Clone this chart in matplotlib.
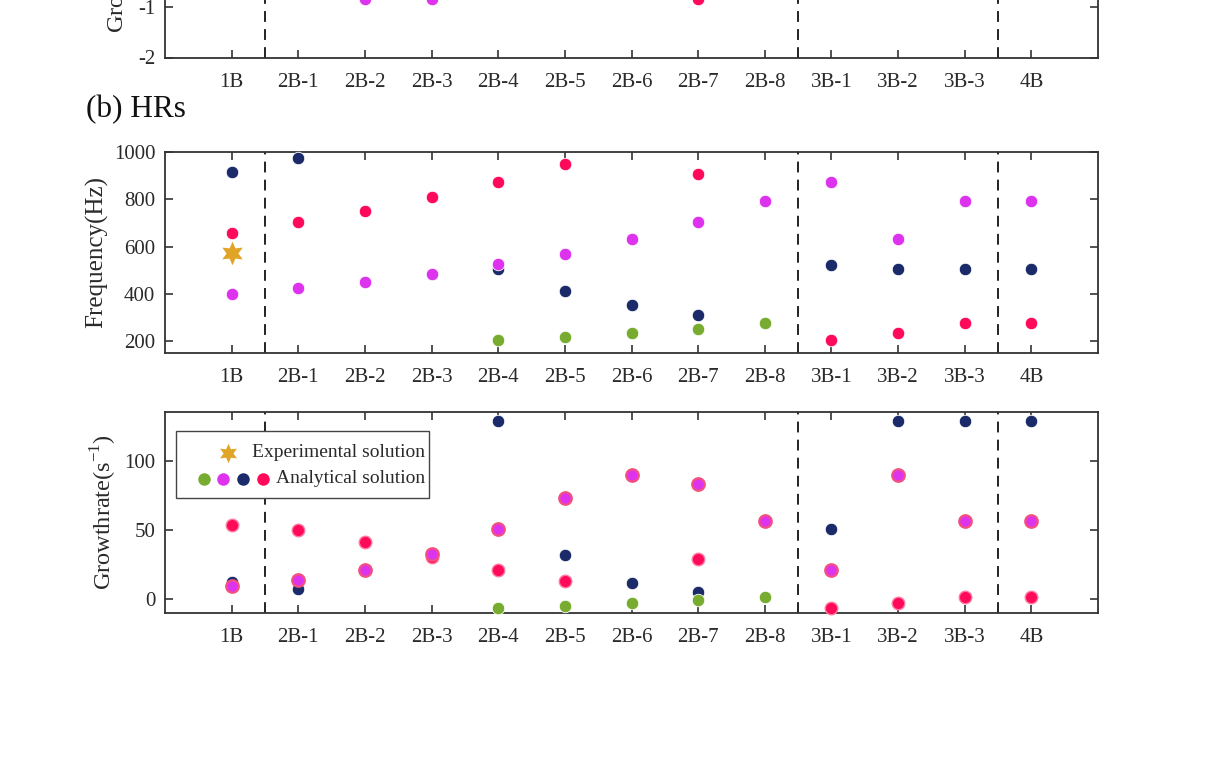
import numpy as np
import matplotlib
matplotlib.use("Agg")
import matplotlib.pyplot as plt
from matplotlib.lines import Line2D
from matplotlib.offsetbox import AnchoredOffsetbox, VPacker, HPacker, TextArea, DrawingArea

plt.rcParams['font.family'] = ['Liberation Serif', 'DejaVu Serif']
plt.rcParams['mathtext.fontset'] = 'custom'
plt.rcParams['mathtext.rm'] = 'Liberation Serif'
plt.rcParams['axes.unicode_minus'] = False

categories = ['1B', '2B-1', '2B-2', '2B-3', '2B-4', '2B-5', '2B-6', '2B-7',
              '2B-8', '3B-1', '3B-2', '3B-3', '4B']
nan = np.nan

# Panel (a) remnant (growth rate, partially visible)
top_magenta = [nan, nan, -0.85, -0.85, nan, nan, nan, nan, nan, nan, nan, nan, nan]
top_red = [nan, nan, nan, nan, nan, nan, nan, -0.85, nan, nan, nan, nan, nan]

# (b) HRs - frequency (Hz)
freq_green = [nan, nan, nan, nan, 203, 217, 233, 252, 278, nan, nan, nan, nan]
freq_magenta = [398, 425, 451, 484, 525, 570, 632, 705, 794, 875, 632, 794, 794]
freq_navy = [915, 975, nan, nan, 504, 413, 354, 310, nan, 522, 507, 507, 507]
freq_red = [658, 703, 752, 809, 874, 952, nan, 907, nan, 204, 233, 278, 278]
freq_exp = [572, nan, nan, nan, nan, nan, nan, nan, nan, nan, nan, nan, nan]

# (b) HRs - growth rate (1/s)
gr_green = [nan, nan, nan, nan, -6.8, -4.8, -2.9, -0.7, 1.2, nan, nan, nan, nan]
gr_magenta = [9.4, 13.8, 20.8, 32.8, 50.5, 73.4, 89.9, 83.3, 56.3, 20.8, 89.9, 56.3, 56.3]
gr_navy = [12.1, 7.5, nan, nan, 129.2, 31.6, 11.4, 4.8, nan, 50.5, 129.2, 129.2, 129.2]
gr_red = [53.6, 50.2, 41.5, 30.7, 20.8, 12.8, nan, 29.0, nan, -6.8, -2.9, 1.4, 1.4]

group_bounds = [1.5, 9.5, 12.5]
legend_labels = ['Experimental solution', 'Analytical solution']

C_GREEN = '#77ac30'
C_MAG = '#dd33ee'
C_NAVY = '#1b2b6a'
C_RED = '#ff0a5a'
C_GOLD = '#e0a526'
SPINE = '#333333'
TXT = '#2a2a2a'

W, H = 1211, 757
fig = plt.figure(figsize=(W / 100, H / 100), dpi=100)

def frac(px_left, px_top, px_right, px_bottom):
    return [px_left / W, 1 - px_bottom / H, (px_right - px_left) / W, (px_bottom - px_top) / H]

x = np.arange(1, len(categories) + 1)

def style_axes(ax, yticks):
    ax.set_xlim(0, len(categories) + 1)
    ax.set_xticks(x)
    ax.set_xticklabels(categories)
    ax.set_yticks(yticks)
    ax.tick_params(axis='both', direction='in', length=6, width=1.2, color=SPINE,
                   labelsize=15, top=True, right=True, labelcolor=TXT)
    ax.tick_params(axis='x', pad=11)
    ax.tick_params(axis='y', pad=7)
    for s in ax.spines.values():
        s.set_color(SPINE)
        s.set_linewidth(1.3)
    for b in group_bounds:
        ax.axvline(b, color='#111111', lw=1.3, ls=(0, (6, 4)), zorder=1)

ms = 9
def pts(ax, vals, color, edge='white', mew=0.6, z=3, marker='o', size=ms):
    ax.plot(x, vals, ls='none', marker=marker, markersize=size, markerfacecolor=color,
            markeredgecolor=edge, markeredgewidth=mew, zorder=z, clip_on=False)

# top remnant axes (panel a bottom)
ax0 = fig.add_axes(frac(165, 57.5 - 204, 1098, 57.5))
style_axes(ax0, [-2, -1])
ax0.set_ylim(-2, 2)
pts(ax0, top_magenta, C_MAG, z=4)
pts(ax0, top_red, C_RED, z=4)
ax0.set_ylabel('Growthrate(s$^{-1}$)', fontsize=17.5, color=TXT)

fig.text(86 / W, 1 - 117 / H, '(b) HRs', fontsize=22.5, va='baseline', ha='left', color='#111111')

# frequency axes
ax1 = fig.add_axes(frac(165, 152.3, 1098, 352.7))
style_axes(ax1, [200, 400, 600, 800, 1000])
ax1.set_ylim(150, 1000)
pts(ax1, freq_navy, C_NAVY, z=3)
pts(ax1, freq_green, C_GREEN, z=4)
pts(ax1, freq_red, C_RED, z=5)
pts(ax1, freq_magenta, C_MAG, z=6)
pts(ax1, freq_exp, C_GOLD, marker=(6, 1, 0), size=17, mew=0, z=7)
ax1.set_ylabel('Frequency(Hz)', fontsize=18, color=TXT)

# growth rate axes
ax2 = fig.add_axes(frac(165, 412.3, 1098, 612.7))
style_axes(ax2, [0, 50, 100])
ax2.set_ylim(-9.9, 135.3)
pts(ax2, gr_navy, C_NAVY, z=3)
pts(ax2, gr_green, C_GREEN, z=4)
pts(ax2, gr_red, C_RED, edge='#ff7aa0', mew=1.0, z=5)
pts(ax2, gr_magenta, C_MAG, edge='#f4507e', mew=1.6, z=6)
ax2.set_ylabel('Growthrate(s$^{-1}$)', fontsize=17.5, color=TXT)

# legend built from offset boxes (rows right-aligned like the reference)
row_h = 13
da_star = DrawingArea(32, row_h, 0, 0)
da_star.add_artist(Line2D([20], [row_h / 2], ls='none', marker=(6, 1, 0), markersize=14,
                          color=C_GOLD, mew=0))
da_dots = DrawingArea(51, row_h, 0, 0)
for cx, c in zip([4.3, 18.0, 32.4, 46.8], [C_GREEN, C_MAG, C_NAVY, C_RED]):
    da_dots.add_artist(Line2D([cx], [row_h / 2], ls='none', marker='o', markersize=9,
                              color=c, mew=0))
tp = dict(fontsize=14, color=TXT)
row1 = HPacker(children=[da_star, TextArea(legend_labels[0], textprops=tp)], sep=5, align='center')
row2 = HPacker(children=[da_dots, TextArea(legend_labels[1], textprops=tp)], sep=5, align='center')
rows = VPacker(children=[row1, row2], sep=5.5, align='right')
inner = VPacker(children=[DrawingArea(1, 6.5), rows, DrawingArea(1, 5)], sep=0, align='right')
outer = HPacker(children=[DrawingArea(13, 1), inner], sep=0, align='center')
anch = AnchoredOffsetbox(loc='upper left', child=outer, pad=0.2, borderpad=0, frameon=True,
                         bbox_to_anchor=(0.0118, 0.907), bbox_transform=ax2.transAxes,
                         prop=dict(size=14))
anch.patch.set_boxstyle('square', pad=0)
anch.patch.set_edgecolor('#444444')
anch.patch.set_linewidth(1.0)
anch.set_zorder(10)
ax2.add_artist(anch)

fig.savefig('out.png', dpi=100)
